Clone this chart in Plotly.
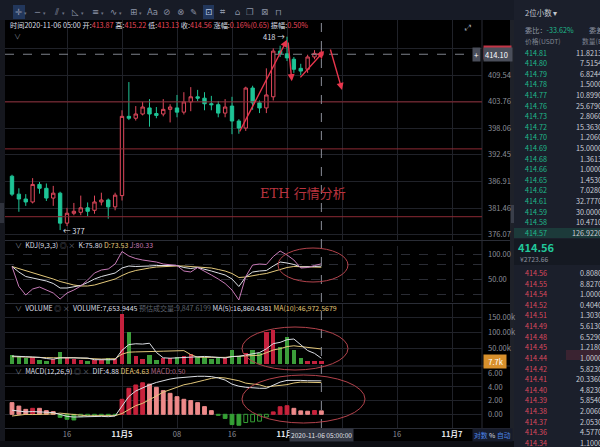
import math
import pandas as pd
import plotly.graph_objects as go

# ---------------- data ----------------
times = pd.date_range("2020-11-04 08:00", periods=46, freq="h").strftime("%Y-%m-%d %H:%M").tolist()

open_ = [388.0, 384.3, 383.3, 382.7, 386.3, 385.5, 383.5, 384.5, 378.4, 380.4,
         380.6, 381.5, 381.0, 382.7, 383.1, 381.7, 384.0, 400.6, 400.2, 401.1,
         402.4, 401.2, 401.1, 402.1, 402.4, 401.5, 403.7, 404.8, 404.5, 403.3,
         403.1, 401.3, 402.8, 399.6, 398.1, 406.7, 403.5, 402.4, 404.8, 414.8,
         414.2, 413.0, 411.0, 410.8, 413.5, 413.87]
high = [388.3, 385.5, 384.3, 387.6, 386.8, 386.5, 386.0, 384.8, 381.5, 382.5,
        384.0, 382.6, 384.0, 384.6, 383.4, 384.6, 401.9, 408.0, 402.8, 403.7,
        404.3, 402.6, 404.3, 403.2, 405.2, 405.8, 406.9, 406.3, 405.8, 405.0,
        403.9, 404.3, 404.8, 400.0, 407.0, 407.2, 404.0, 411.0, 415.4, 416.0,
        418.0, 413.5, 412.0, 414.0, 415.0, 415.22]
low = [383.9, 380.7, 381.9, 382.4, 384.4, 382.9, 381.9, 377.0, 377.8, 380.0,
       380.0, 379.8, 380.3, 382.0, 379.3, 381.0, 383.0, 399.8, 399.7, 400.8,
       398.4, 400.2, 400.6, 399.3, 400.4, 401.0, 401.7, 403.9, 401.9, 401.9,
       400.4, 400.4, 396.8, 396.9, 397.5, 402.0, 401.3, 401.3, 404.0, 413.5,
       412.6, 410.0, 409.5, 410.0, 413.0, 413.13]
close = [384.3, 383.3, 382.7, 386.3, 385.5, 383.5, 384.5, 378.4, 380.4, 380.8,
         381.5, 380.8, 382.7, 383.1, 381.7, 384.1, 400.6, 400.2, 401.1, 402.6,
         401.1, 400.8, 402.1, 402.6, 401.5, 403.7, 404.8, 404.5, 403.3, 403.1,
         401.3, 402.6, 399.6, 398.1, 406.7, 403.5, 402.4, 405.2, 414.8, 414.2,
         413.3, 410.8, 410.4, 413.5, 414.3, 414.56]

kdj_k = [75, 64, 55, 52, 50, 46, 41, 32, 32, 34, 37, 43, 50, 55, 58, 62, 72, 76, 75, 75,
         76, 77, 77, 77, 77, 73, 71, 73, 70, 66, 62, 58, 50, 35, 54, 64, 66, 67, 76, 84,
         82, 79, 74, 74, 75, 75.80]
kdj_d = [75, 71, 66, 62, 58, 54, 50, 45, 41, 38, 36, 36, 38, 42, 46, 50, 57, 63, 67, 70,
         72, 74, 75, 76, 76, 76, 75, 74, 74, 72, 69, 66, 61, 53, 54, 57, 59, 61, 65, 70,
         73, 75, 75, 74, 74, 73.53]
kdj_j = [75, 35, 18, 30, 34, 28, 22, 10, 22, 28, 36, 48, 62, 68, 70, 80, 105, 96, 91, 88,
         86, 84, 80, 78, 77, 66, 64, 73, 66, 58, 50, 41, 28, 8, 55, 78, 80, 79, 95, 106,
         98, 88, 72, 73, 77, 80.33]

volume = [27400, 24000, 16700, 20000, 11000, 9000, 13000, 38000, 16700, 13400,
          11300, 9000, 11000, 11000, 18000, 13000, 160000, 103000, 24000, 13000,
          27000, 11000, 17000, 17000, 20000, 24000, 30000, 20000, 20000, 13000,
          19000, 17000, 43000, 24000, 33000, 43500, 33000, 102600, 108000, 54000,
          86600, 43500, 16700, 8000, 8000, 7653.9445]
vol_ma5 = [24000, 24000, 22000, 21000, 19800, 16100, 13900, 18200, 17500, 18000,
           18500, 17700, 12300, 11100, 12100, 12400, 42600, 61000, 63600, 62600,
           65400, 35600, 18400, 17000, 18400, 17800, 21600, 22200, 22800, 21400,
           20400, 17800, 22400, 23200, 27200, 32100, 35300, 47200, 64000, 68200,
           76800, 79000, 61800, 41800, 32600, 16860.4381]
vol_ma10 = [22000, 21000, 20500, 20000, 19500, 19000, 18500, 19000, 19000, 18900,
            17300, 15800, 15200, 14300, 15000, 15400, 30100, 36600, 37400, 37300,
            38900, 39100, 39700, 40300, 40500, 41600, 28600, 20300, 19900, 19900,
            19100, 19700, 22300, 23000, 24300, 26300, 26600, 34800, 43600, 47700,
            54500, 57100, 54500, 52900, 50400, 46972.5679]
vol_est = 9847.6199

macd_dif = [0.6, 0.5, 0.35, 0.4, 0.4, 0.3, 0.25, -0.05, -0.3, -0.4, -0.35, -0.35, -0.3, -0.3,
            -0.35, -0.25, 1.2, 2.6, 3.4, 3.9, 4.3, 4.65, 4.95, 5.15, 5.3, 5.4, 5.5, 5.55, 5.55,
            5.5, 5.3, 5.0, 4.4, 4.1, 3.95, 3.85, 3.8, 3.8, 4.25, 4.7, 4.95, 5.0, 4.95, 4.9, 4.9, 4.88]
macd_dea = [-0.25, -0.1, -0.01, -0.04, -0.04, 0.04, 0.06, 0.17, 0.07, 0.02, -0.18, -0.23, -0.2,
            -0.23, -0.25, -0.2, 0.11, 0.7, 1.26, 1.6, 2.1, 2.68, 3.23, 3.62, 4.02, 4.31, 4.5, 4.7,
            4.99, 5.24, 5.38, 5.3, 5.15, 4.9, 4.55, 4.4, 4.3, 4.0, 4.08, 4.15, 4.33, 4.57, 4.7,
            4.68, 4.63, 4.63]
macd_hist = [1.7, 1.2, 0.72, 0.87, 0.87, 0.53, 0.39, -0.44, -0.73, -0.83, -0.34, -0.24, -0.2,
             -0.15, -0.2, -0.1, 2.19, 3.8, 4.28, 4.6, 4.4, 3.94, 3.45, 3.06, 2.57, 2.19, 2.0, 1.7,
             1.12, 0.53, -0.15, -0.6, -1.5, -1.6, -1.2, -1.1, -1.0, -0.4, 0.35, 1.1, 1.25, 0.87,
             0.5, 0.45, 0.55, 0.5]

price_ticks = [376.07, 381.46, 386.91, 392.45, 398.06, 403.76, 409.54, 415.40]
price_labels = ["376.07", "381.46", "386.91", "392.45", "398.06", "403.76", "409.54", ""]
support_lines = [403.7, 393.7, 379.7]
cross_price = 414.10
cross_time = "2020-11-06 05:00"

x_ticks = ["2020-11-04 16:00", "2020-11-05 00:00", "2020-11-05 08:00", "2020-11-05 16:00",
           "2020-11-06 00:00", "2020-11-06 08:00", "2020-11-06 16:00", "2020-11-07 00:00"]
x_labels = ["16", "<span style='color:#e4e6eb'><b>11月5</b></span>", "08", "16",
            "<span style='color:#e4e6eb'><b>11月6</b></span>", "08", "16",
            "<span style='color:#e4e6eb'><b>11月7</b></span>"]
x_range = ["2020-11-04 06:58:56", "2020-11-07 04:21:49"]

# drawn arrows: (tail time, tail price, head time, head price)
arrows = [("2020-11-05 17:00", 397.05, "2020-11-06 00:00", 417.3),
          ("2020-11-06 00:09", 417.05, "2020-11-06 00:42", 408.2),
          ("2020-11-06 01:45", 408.7, "2020-11-06 05:23", 414.8),
          ("2020-11-06 06:15", 415.5, "2020-11-06 08:00", 406.3)]

ask_px = ["414.81", "414.80", "414.79", "414.78", "414.77", "414.76", "414.73", "414.72", "414.70",
          "414.69", "414.68", "414.66", "414.65", "414.62", "414.61", "414.59", "414.58", "414.57"]
ask_qty = ["11.8213", "7.5154", "6.8244", "1.5000", "10.8990", "25.6790", "2.8060", "15.3630",
           "1.2060", "15.0000", "1.3613", "1.0000", "1.4530", "7.0280", "32.7770", "30.0000",
           "10.4710", "126.9220"]
bid_px = ["414.56", "414.55", "414.54", "414.52", "414.51", "414.49", "414.48", "414.45", "414.44",
          "414.42", "414.41", "414.40", "414.39", "414.38", "414.37", "414.36", "414.34"]
bid_qty = ["0.8080", "8.8270", "1.0000", "0.4040", "1.3030", "5.6130", "6.5290", "1.2180", "1.0000",
           "5.8230", "20.3360", "4.8230", "5.8540", "2.0060", "2.0530", "4.5770", "1.1000"]

# ---------------- style ----------------
W, H = 600, 447
def X(px): return px / W
def Y(py): return 1 - py / H

FONT = "Noto Sans CJK SC, Noto Sans, sans-serif"
UP = "#e0485c"
DN = "#1ec496"
VUP = "#c4213d"
VDN = "#3c9d3a"
GRID = "#202229"
LBL = "#8b8f99"
WHITE = "#dcdfe5"
YEL = "#e2c77a"
PINK = "#c67ab6"
PANEL = "#1b1f2b"

fig = go.Figure()

fig.add_trace(go.Candlestick(
    x=times, open=open_, high=high, low=low, close=close,
    increasing=dict(line=dict(color=UP, width=1), fillcolor="#000000"),
    decreasing=dict(line=dict(color=DN, width=1), fillcolor=DN),
    whiskerwidth=0, xaxis="x", yaxis="y", hoverinfo="skip"))

for p in support_lines:
    fig.add_trace(go.Scatter(x=x_range, y=[p, p], mode="lines", line=dict(color="#8c2a34", width=1),
                             xaxis="x", yaxis="y", hoverinfo="skip"))
fig.add_trace(go.Scatter(x=[x_range[0], "2020-11-07 03:00"], y=[cross_price, cross_price], mode="lines",
                         line=dict(color="#7d818b", width=1, dash="dash"), xaxis="x", yaxis="y",
                         hoverinfo="skip"))

# KDJ
for arr, col in [(kdj_d, YEL), (kdj_k, WHITE), (kdj_j, PINK)]:
    fig.add_trace(go.Scatter(x=times, y=arr, mode="lines", line=dict(color=col, width=1),
                             xaxis="x", yaxis="y2", hoverinfo="skip"))

# Volume
vcol = [VUP if c >= o else VDN for o, c in zip(open_, close)]
bw = 0.62 * 3600 * 1000
fig.add_trace(go.Bar(x=times, y=volume, marker=dict(color=vcol, line=dict(width=0)), width=bw,
                     xaxis="x", yaxis="y3", hoverinfo="skip"))
fig.add_trace(go.Scatter(x=times, y=vol_ma10, mode="lines", line=dict(color=YEL, width=1),
                         xaxis="x", yaxis="y3", hoverinfo="skip"))
fig.add_trace(go.Scatter(x=times, y=vol_ma5, mode="lines", line=dict(color=WHITE, width=1),
                         xaxis="x", yaxis="y3", hoverinfo="skip"))

# MACD
mfill, mline = [], []
for i, v in enumerate(macd_hist):
    prev = macd_hist[i - 1] if i > 0 else v
    if v >= 0:
        c = "#c8233c" if v > prev else "#ee8a8a"
        mfill.append(c); mline.append(c)
    else:
        if v <= prev:
            mfill.append("#35a035"); mline.append("#35a035")
        else:
            mfill.append("rgba(0,0,0,0)"); mline.append("#35a035")
fig.add_trace(go.Bar(x=times, y=macd_hist, marker=dict(color=mfill, line=dict(color=mline, width=1)),
                     width=bw * 0.9, xaxis="x", yaxis="y4", hoverinfo="skip"))
fig.add_trace(go.Scatter(x=times, y=macd_dea, mode="lines", line=dict(color=YEL, width=1),
                         xaxis="x", yaxis="y4", hoverinfo="skip"))
fig.add_trace(go.Scatter(x=times, y=macd_dif, mode="lines", line=dict(color=WHITE, width=1),
                         xaxis="x", yaxis="y4", hoverinfo="skip"))

# ---------------- shapes ----------------
shapes = []
def rect(x0, y0, x1, y1, color, layer="below"):
    shapes.append(dict(type="rect", xref="paper", yref="paper", x0=X(x0), x1=X(x1), y0=Y(y1), y1=Y(y0),
                       fillcolor=color, line=dict(width=0), layer=layer))
def hline(py, x0, x1, color="#2a2d36"):
    shapes.append(dict(type="line", xref="paper", yref="paper", x0=X(x0), x1=X(x1), y0=Y(py), y1=Y(py),
                       line=dict(color=color, width=1), layer="below"))

rect(0, 0, 514, 20, "#171b26")
rect(514, 0, 600, 447, PANEL)
rect(0, 20, 5, 447, "#15171e")
rect(0, 203, 4, 223, "#30333d")
rect(510, 20, 514, 447, "#1e2129")
rect(511, 205, 514, 223, "#3a3e4a")
rect(0, 441, 514, 447, "#0d0f14")
rect(13, 5, 25, 19, "#22375c")
rect(203, 5, 214, 19, "#22375c")
# order book decorations
rect(514, 228, 600, 238, "#1c3a3a")
rect(514, 239, 600, 265, "#151922")
rect(566, 350, 600, 360, "#3a2331")
shapes.append(dict(type="line", xref="paper", yref="paper", x0=X(482), x1=X(482), y0=Y(441), y1=Y(20),
                   line=dict(color="#2a2d36", width=1), layer="below"))
for py in [240.5, 303.5, 366, 428.5]:
    hline(py, 5, 510)
# crosshair vertical
shapes.append(dict(type="line", xref="x", yref="paper", x0=cross_time, x1=cross_time, y0=Y(428), y1=Y(20),
                   line=dict(color="#8a8e98", width=1, dash="dash"), layer="above"))
# drawn ellipses
for (x0, y0, x1, y1) in [(278, 248, 348, 282), (242, 327, 348, 370), (242, 375, 365, 423)]:
    shapes.append(dict(type="circle", xref="paper", yref="paper", x0=X(x0), x1=X(x1), y0=Y(y1), y1=Y(y0),
                       line=dict(color="#b3434c", width=1), layer="above"))

# ---------------- annotations ----------------
ann = []
def txt(px, py, text, size=7.5, color=WHITE, anchor="left", bg=None, family=FONT):
    d = dict(x=X(px), y=Y(py), xref="paper", yref="paper", text=text, showarrow=False,
             xanchor=anchor, yanchor="middle", font=dict(size=size, color=color, family=family))
    if bg:
        d.update(bgcolor=bg, borderpad=1)
    ann.append(d)

def red(s):
    return f"<span style='color:#e8475b'>{s}</span>"

# toolbar icons
icons = [(18, "✛"), (37, "─"), (56, "⫽"), (75, "◺"), (95, "≡"), (113, "∿"), (133, "⊞"),
         (152, "Aa"), (166, "⊘"), (180, "⊗"), (194, "✎"), (208, "⊡"), (222, "⌗"), (237, "⌂"),
         (250, "❐"), (264, "⊠"), (278, "⊓")]
for i, (px, g) in enumerate(icons):
    txt(px, 12, g, size=8.5, color="#8d94a7" if px != 208 else "#b8c7e6", anchor="center", family="DejaVu Sans")
    if i < 7:
        txt(px + 7, 13, "▾", size=5, color="#6d7385", anchor="center", family="DejaVu Sans")

info = (f"时间2020-11-06 05:00 开:{red(f'{open_[-1]:.2f}')} 高:{red(f'{high[-1]:.2f}')} "
        f"低:{red(f'{low[-1]:.2f}')} 收:{red(f'{close[-1]:.2f}')} 涨幅:{red('0.16%(0.65)')} 振幅:{red('0.50%')}")
txt(8, 25, info, size=7.2, color=WHITE)
txt(17, 36, "∨", size=7, color="#7d828d", anchor="center")
txt(467, 27, "⤢", size=8, color="#9aa0ab", anchor="center", family="DejaVu Sans")

txt(303, 193, "ETH 行情分析", size=13, color="#b9343f", anchor="center", family="DejaVu Serif, Noto Sans CJK SC")

# price axis boxes
ann.append(dict(x=X(483), y=math.log10(close[-1]), xref="paper", yref="y", text="414.56 ", showarrow=False,
                xanchor="left", yanchor="middle", bgcolor="#c23546", font=dict(size=7.5, color="#ffffff", family=FONT)))
ann.append(dict(x=X(483), y=math.log10(cross_price), xref="paper", yref="y", text=f"{cross_price:.2f}  ",
                showarrow=False, xanchor="left", yanchor="middle", bgcolor="#4a4e5a",
                font=dict(size=7.5, color="#ffffff", family=FONT)))
ann.append(dict(x=X(476), y=math.log10(cross_price), xref="paper", yref="y", text="+", showarrow=False,
                xanchor="center", yanchor="middle", bgcolor="#4a4e5a", font=dict(size=8, color="#ffffff", family=FONT)))
ann.append(dict(x=X(483), y=volume[-1], xref="paper", yref="y3", text=f"  {volume[-1]/1000:.1f}k ",
                showarrow=False, xanchor="left", yanchor="middle", bgcolor="#d8902c",
                font=dict(size=7.5, color="#ffffff", family=FONT)))

# high / low markers
ann.append(dict(x=times[40], y=math.log10(high[40]), xref="x", yref="y", text=f"{high[40]:.0f} →", showarrow=False,
                xanchor="right", yanchor="middle", font=dict(size=7.5, color=WHITE, family=FONT)))
ann.append(dict(x=times[7], y=math.log10(low[7]), xref="x", yref="y", text=f"← {low[7]:.0f}", showarrow=False,
                xanchor="left", yanchor="middle", xshift=1, font=dict(size=7.5, color=WHITE, family=FONT)))

for (tt, tp, ht, hp) in arrows:
    ann.append(dict(x=ht, y=math.log10(hp), ax=tt, ay=math.log10(tp), xref="x", yref="y", axref="x", ayref="y",
                    text="", showarrow=True, arrowhead=2, arrowsize=1, arrowwidth=1.4, arrowcolor="#e8364d"))

# panel headers
def span(s, c):
    return f"<span style='color:{c}'>{s}</span>"
txt(13, 245, span("∨", "#7d828d") + "  KDJ(9,3,3) " + span("◎ ×", "#6f7480") + "  " +
    f"K:{kdj_k[-1]:.2f} " + span(f"D:{kdj_d[-1]:.2f}", YEL) + " " + span(f"J:{kdj_j[-1]:.2f}", PINK), size=7)
txt(13, 308, span("∨", "#7d828d") + "  VOLUME " + span("◎ ×", "#6f7480") + "  " +
    f"VOLUME:{volume[-1]:,.4f} " + span(f"预估成交量:{vol_est:,.4f}", "#5d626d") + " " +
    f"MA(5):{vol_ma5[-1]:,.4f} " + span(f"MA(10):{vol_ma10[-1]:,.4f}", YEL), size=7)
txt(13, 371, span("∨", "#7d828d") + "  MACD(12,26,9) " + span("◎ ×", "#6f7480") + "  " +
    f"DIF:{macd_dif[-1]:.2f} " + span(f"DEA:{macd_dea[-1]:.2f}", YEL) + " " +
    span(f"MACD:{macd_hist[-1]:.2f}", "#b36a86"), size=7)

# bottom axis extras
ann.append(dict(x=cross_time, y=Y(435), xref="x", yref="paper", text="2020-11-06 05:00:00", showarrow=False,
                xanchor="center", yanchor="middle", bgcolor="#333743", font=dict(size=6.6, color="#e0e2e8", family=FONT)))
txt(472, 435, span("对数", "#4b84e8") + " % " + span("自动", "#4b84e8"), size=6.8, color=WHITE, bg="#161b2a")

# order book
txt(523, 13, "2位小数 ▾", size=7.5, color="#c3c7d0")
txt(523, 30, "委比：" + span("-33.62%", "#1fb88a"), size=7.2, color="#9096a3")
txt(587, 30, "委差", size=7.2, color="#9096a3")
txt(523, 41, "价格(USDT)", size=6.8, color="#7d8390")
txt(580, 41, "数量(ETH)", size=6.8, color="#7d8390")
for k, (p, q) in enumerate(zip(ask_px, ask_qty)):
    py = 52.7 + 10.59 * k
    txt(523, py, p, size=7.2, color="#1fb88a")
    txt(604, py, q, size=7.2, color="#c9cdd6", anchor="right")
txt(516, 247, f"<b>{close[-1]:.2f}</b>", size=11, color="#21c79a")
txt(518, 259, "¥2723.66", size=6.8, color="#8d93a0")
for k, (p, q) in enumerate(zip(bid_px, bid_qty)):
    py = 273 + 10.62 * k
    txt(523, py, p, size=7.2, color="#d9485d")
    txt(604, py, q, size=7.2, color="#c9cdd6", anchor="right")

axis_font = dict(size=7.5, color=LBL, family=FONT)
fig.update_layout(
    width=W, height=H, margin=dict(l=0, r=0, t=0, b=0),
    paper_bgcolor="#000000", plot_bgcolor="#000000", showlegend=False, hovermode=False,
    bargap=0,
    xaxis=dict(domain=[X(5), X(482)], range=x_range, type="date", anchor="y4",
               tickmode="array", tickvals=x_ticks, ticktext=x_labels, showgrid=True, gridcolor=GRID,
               gridwidth=1, ticks="", tickfont=axis_font, zeroline=False, showline=False,
               rangeslider=dict(visible=False), fixedrange=True),
    yaxis=dict(domain=[Y(240), Y(20)], type="log", range=[2.57404, 2.62505], side="right", anchor="x",
               tickmode="array", tickvals=price_ticks, ticktext=price_labels, showgrid=True, gridcolor=GRID,
               ticks="", tickfont=axis_font, ticklabelstandoff=5, zeroline=False, showline=False),
    yaxis2=dict(domain=[Y(302), Y(246)], range=[4, 116], side="right", anchor="x",
                tickmode="array", tickvals=[20, 50, 80, 100], ticktext=["", "50.00", "", "100.00"],
                showgrid=True, gridcolor="#2a2c34", griddash="dash", ticks="", tickfont=axis_font,
                ticklabelstandoff=5, zeroline=False, showline=False),
    yaxis3=dict(domain=[Y(365), Y(304)], range=[-4840, 191935], side="right", anchor="x",
                tickmode="array", tickvals=[50000, 100000, 150000], ticktext=["50.00k", "100.00k", "150.00k"],
                showgrid=True, gridcolor=GRID, ticks="", tickfont=axis_font, ticklabelstandoff=5,
                zeroline=False, showline=False),
    yaxis4=dict(domain=[Y(428), Y(366)], range=[-2.0, 7.05], side="right", anchor="x",
                tickmode="array", tickvals=[0, 2, 4, 6], ticktext=["0.00", "2.00", "4.00", "6.00"],
                showgrid=True, gridcolor=GRID, ticks="", tickfont=axis_font, ticklabelstandoff=5,
                zeroline=False, showline=False),
    shapes=shapes, annotations=ann,
)

fig.write_html("out.html", config={"displayModeBar": False, "staticPlot": True},
               post_script="document.body.style.margin='0';document.body.style.overflow='hidden';")
